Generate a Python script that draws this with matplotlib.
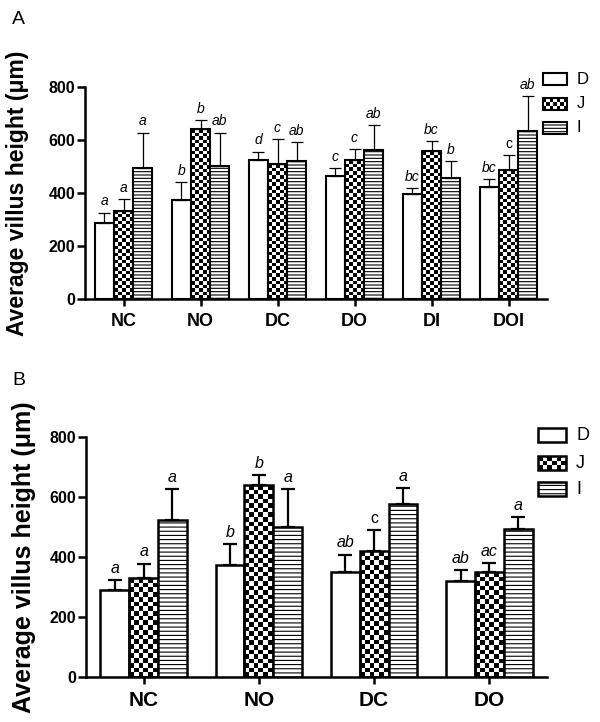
import numpy as np
import matplotlib
matplotlib.use("Agg")
import matplotlib.pyplot as plt
from matplotlib.patches import Rectangle

plt.rcParams['font.family'] = ['Liberation Sans', 'DejaVu Sans']
plt.rcParams['hatch.linewidth'] = 0.8

series = ['D', 'J', 'I']

# panel A
groups_a = ['NC', 'NO', 'DC', 'DO', 'DI', 'DOI']
d_a = [288, 374, 524, 464, 396, 423]
d_a_err = [38, 67, 32, 29, 24, 30]
j_a = [333, 640, 509, 523, 558, 486]
j_a_err = [45, 34, 94, 42, 39, 57]
i_a = [495, 503, 520, 563, 457, 634]
i_a_err = [133, 125, 71, 92, 63, 133]
let_a = [['a', 'b', 'd', 'c', 'bc', 'bc'],
         ['a', 'b', 'c', 'c', 'bc', 'c'],
         ['a', 'ab', 'ab', 'ab', 'b', 'ab']]

# panel B
groups_b = ['NC', 'NO', 'DC', 'DO']
d_b = [289, 373, 349, 321]
d_b_err = [34, 69, 59, 36]
j_b = [329, 640, 419, 349]
j_b_err = [49, 32, 72, 30]
i_b = [522, 500, 578, 493]
i_b_err = [104, 126, 52, 39]
let_b = [['a', 'b', 'ab', 'ab'],
         ['a', 'b', 'c', 'ac'],
         ['a', 'a', 'a', 'a']]
# letters printed upright in the original (not italic)
upright = {('A', 1, 5), ('B', 1, 2)}

W, H = 600, 722
fig = plt.figure(figsize=(6, 7.22), dpi=100)


def checker(ax, x0, w, h, cell):
    # checkerboard fill for J bars, cell size in pixels
    p0 = ax.transData.transform((x0, 0))
    p1 = ax.transData.transform((x0 + w, h))
    nx = max(1, int(round((p1[0] - p0[0]) / cell)))
    ny = max(1, int(round((p1[1] - p0[1]) / cell)))
    arr = np.add.outer(np.arange(ny), np.arange(nx)) % 2
    ax.imshow(arr, cmap='gray', extent=(x0, x0 + w, 0, h), origin='lower',
              interpolation='nearest', aspect='auto', zorder=2)


def panel(box, groups, vals, errs, letters, tag, sizes):
    l, b, r, t = box
    ax = fig.add_axes([l / W, 1 - b / H, (r - l) / W, (b - t) / H])
    n = len(groups)
    ax.set_xlim(-0.5, n - 0.5)
    ax.set_ylim(0, 800)
    x = np.arange(n)
    bw = 0.25
    lw = sizes['lw']
    for k in range(3):
        xs = x + (k - 1) * bw
        if k == 0:
            ax.bar(xs, vals[k], bw, color='white', edgecolor='black', linewidth=lw, zorder=3)
        elif k == 1:
            for xi, v in zip(xs, vals[k]):
                checker(ax, xi - bw / 2, bw, v, sizes['cell'])
            ax.bar(xs, vals[k], bw, color='none', edgecolor='black', linewidth=lw, zorder=3)
        else:
            ax.bar(xs, vals[k], bw, color='white', edgecolor='black', linewidth=lw,
                   hatch=sizes['hatch'], zorder=3)
        ax.errorbar(xs, vals[k], yerr=[np.zeros(n), errs[k]], fmt='none', ecolor='black',
                    elinewidth=sizes['elw'], capsize=sizes['cap'], capthick=sizes['elw'], zorder=4)
        for j in range(n):
            st = 'normal' if (tag, k, j) in upright else 'italic'
            ax.annotate(letters[k][j], (xs[j], vals[k][j] + errs[k][j]), xytext=(0, 3),
                        textcoords='offset points', ha='center', va='bottom',
                        fontsize=sizes['let'], style=st)
    ax.set_xlim(-0.5, n - 0.5)
    ax.set_ylim(0, 800)
    for s in ['top', 'right']:
        ax.spines[s].set_visible(False)
    for s in ['left', 'bottom']:
        ax.spines[s].set_linewidth(1.8)
    ax.set_yticks([0, 200, 400, 600, 800])
    ax.set_xticks(x)
    ax.set_xticklabels(groups, fontsize=sizes['xt'], fontweight='bold')
    ax.tick_params(axis='y', labelsize=sizes['yt'], width=1.8, length=6, pad=1)
    ax.tick_params(axis='x', width=1.8, length=5, pad=5)
    for lab in ax.get_yticklabels():
        lab.set_fontweight('bold')
    ax.set_ylabel('Average villus height (\u03bcm)', fontsize=sizes['yl'],
                  fontweight='bold', labelpad=sizes['pad'])

    # legend drawn by hand
    lx0, lx1, lys, lh = sizes['legend']
    for k, yc in enumerate(lys):
        x0, x1 = lx0 / W, lx1 / W
        y0 = 1 - (yc + lh / 2) / H
        hh = lh / H
        if k == 1:
            lax = fig.add_axes([x0, y0, x1 - x0, hh])
            lax.set_axis_off()
            nx = int(round((lx1 - lx0) / sizes['cell']))
            ny = int(round(lh / sizes['cell']))
            lax.imshow(np.add.outer(np.arange(ny), np.arange(nx)) % 2, cmap='gray',
                       interpolation='nearest', aspect='auto')
            fig.patches.append(Rectangle((x0, y0), x1 - x0, hh, transform=fig.transFigure,
                                         facecolor='none', edgecolor='black', linewidth=lw))
        else:
            fig.patches.append(Rectangle((x0, y0), x1 - x0, hh, transform=fig.transFigure,
                                         facecolor='white', edgecolor='black', linewidth=lw,
                                         hatch=sizes['hatch'] if k == 2 else None))
        fig.text((lx1 + 10) / W, 1 - yc / H, series[k], fontsize=sizes['leg'], va='center')
    return ax


panel((85, 299, 547, 87), groups_a, [d_a, j_a, i_a], [d_a_err, j_a_err, i_a_err], let_a, 'A',
      dict(lw=1.5, elw=0.9, cap=4, cell=3.6, hatch='-----', let=10, xt=13, yt=11.5, yl=16.5,
           pad=14, leg=12, legend=(543, 567, [79, 104, 128], 12)))
panel((86, 677, 547, 437), groups_b, [d_b, j_b, i_b], [d_b_err, j_b_err, i_b_err], let_b, 'B',
      dict(lw=1.8, elw=1.6, cap=5, cell=4.6, hatch='----', let=11.5, xt=15, yt=11.5, yl=18,
           pad=10, leg=13, legend=(538, 566, [435, 463, 489], 14)))

fig.text(12 / W, 1 - 19 / H, 'A', fontsize=14, va='center')
fig.text(12 / W, 1 - 381 / H, 'B', fontsize=14, va='center')

fig.savefig('out.png', dpi=100, facecolor='white')
